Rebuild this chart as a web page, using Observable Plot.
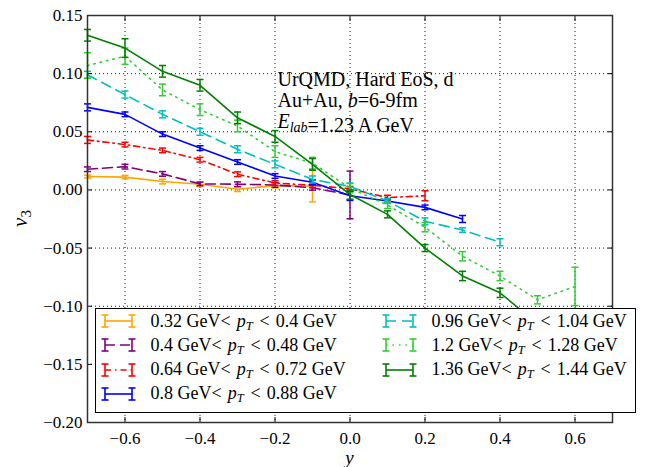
<!DOCTYPE html>
<html><head><meta charset="utf-8">
<script src="https://cdn.jsdelivr.net/npm/d3@7"></script>
<script src="https://cdn.jsdelivr.net/npm/@observablehq/plot@0.6"></script>
<style>
body{margin:0;background:#fff;}
#wrap{position:relative;width:646px;height:467px;font-family:'Liberation Serif',serif;}
#legend{position:absolute;left:95px;top:308px;width:541px;height:105px;border:1.2px solid #000;background:#fff;box-sizing:border-box;}
.item{position:absolute;display:flex;align-items:center;height:24px;font-size:18px;white-space:nowrap;color:#000;font-family:'Liberation Serif',serif;}
.item svg{margin-right:12.5px;}
.r1{margin:0 6px 0 0;}
.r2{margin:0 6px 0 7px;}
.sub{font-size:12.5px;font-style:italic;position:relative;top:3px;}
</style>
</head><body>
<div id="wrap"><div id="legend"></div></div>
<script>
// ---- data ----
const xVals = [-0.7,-0.6,-0.5,-0.4,-0.3,-0.2,-0.1,0.0,0.1,0.2,0.3,0.4,0.5,0.6];
const ptLow  = ["0.32","0.4","0.64","0.8","0.96","1.2","1.36"];
const ptHigh = ["0.4","0.48","0.72","0.88","1.04","1.28","1.44"];
const colors = ["#ffa500","#800080","#ff0000","#0000ff","#00bfbf","#32cd32","#008000"];
const dashes = [null,"10,5","6,4,1.5,4",null,"10,6","1.5,5",null];

const v032 = [0.0115,0.011,0.0072,0.0049,0.0006,0.0037,0.0034];
const e032 = [0.0012,0.0015,0.002,0.002,0.002,0.002,0.0137];
const v040 = [0.0178,0.020,0.0138,0.0052,0.0049,0.0043,0.0018,-0.0043];
const e040 = [0.002,0.002,0.002,0.0015,0.002,0.002,0.002,0.0205];
const v064 = [0.043,0.039,0.034,0.026,0.0135,0.006,0.004,0.001,-0.0066,-0.005];
const e064 = [0.003,0.002,0.002,0.002,0.002,0.002,0.002,0.002,0.002,0.0043];
const v080 = [0.071,0.065,0.048,0.036,0.024,0.012,0.0066,-0.005,-0.0095,-0.015,-0.025];
const e080 = [0.003,0.002,0.002,0.002,0.002,0.002,0.002,0.004,0.002,0.002,0.003];
const v096 = [0.099,0.082,0.065,0.050,0.035,0.022,0.009,0.003,-0.0095,-0.027,-0.0345,-0.045];
const e096 = [0.003,0.003,0.003,0.003,0.003,0.003,0.003,0.003,0.002,0.003,0.002,0.003];
const v120 = [0.107,0.115,0.086,0.069,0.055,0.033,0.023,0.0015,-0.013,-0.032,-0.057,-0.074,-0.0945,-0.083];
const e120 = [0.011,0.007,0.005,0.005,0.005,0.005,0.005,0.004,0.003,0.004,0.004,0.004,0.0035,0.0165];
const v136 = [0.133,0.122,0.102,0.090,0.062,0.046,0.022,-0.004,-0.021,-0.050,-0.074,-0.0885,-0.115];
const e136 = [0.005,0.008,0.005,0.005,0.005,0.005,0.005,0.004,0.003,0.003,0.004,0.004,0.004];

const xTicks = [-0.6,-0.4,-0.2,0.0,0.2,0.4,0.6];
const yTicks = [-0.20,-0.15,-0.10,-0.05,0.00,0.05,0.10,0.15];
const annotation = ["UrQMD, Hard EoS, d", "Au+Au, |b|=6-9fm", "|E|_lab=1.23 A GeV"];

// ---- build ----
const vals = [v032,v040,v064,v080,v096,v120,v136];
const errs = [e032,e040,e064,e080,e096,e120,e136];
const series = vals.map((v,k)=>({k, color:colors[k], dash:dashes[k],
  rows: v.map((y,i)=>({x:xVals[i], y, e:errs[k][i]}))}));

const cap = {draw(ctx, size){ const r = Math.sqrt(size/Math.PI); ctx.moveTo(-r,0); ctx.lineTo(r,0); }};

const marks = [
  Plot.gridX({ticks:xTicks, stroke:"#000", strokeOpacity:0.9, strokeDasharray:"1,3"}),
  Plot.gridY({ticks:yTicks, stroke:"#000", strokeOpacity:0.9, strokeDasharray:"1,3"}),
];
for (const s of series) {
  marks.push(Plot.line(s.rows, {x:"x", y:"y", stroke:s.color, strokeWidth:1.6, strokeDasharray:s.dash}));
  marks.push(Plot.ruleX(s.rows, {x:"x", y1:d=>d.y-d.e, y2:d=>d.y+d.e, stroke:s.color, strokeWidth:1.5}));
  marks.push(Plot.dot(s.rows, {x:"x", y:d=>d.y-d.e, symbol:cap, r:3.5, stroke:s.color, strokeWidth:1.5, fill:"none"}));
  marks.push(Plot.dot(s.rows, {x:"x", y:d=>d.y+d.e, symbol:cap, r:3.5, stroke:s.color, strokeWidth:1.5, fill:"none"}));
}
marks.push(
  Plot.axisX({anchor:"bottom", ticks:xTicks, tickSize:-5, tickPadding:14, tickFormat:d3.format(".1f"), fontSize:17, fill:"#000", stroke:"#000"}),
  Plot.axisX({anchor:"top", ticks:xTicks, tickSize:-5, tickFormat:()=>"", stroke:"#000"}),
  Plot.axisY({anchor:"left", ticks:yTicks, tickSize:-5, tickPadding:10, tickFormat:d3.format(".2f"), fontSize:17, fill:"#000", stroke:"#000"}),
  Plot.axisY({anchor:"right", ticks:yTicks, tickSize:-5, tickFormat:()=>"", stroke:"#000"}),
  Plot.frame({stroke:"#333", strokeWidth:1.5})
);

const chart = Plot.plot({
  width:646, height:467,
  marginLeft:87, marginRight:34, marginTop:15, marginBottom:45,
  x:{domain:[-0.7,0.7], label:null},
  y:{domain:[-0.2,0.15], label:null},
  style:{fontFamily:"'Liberation Serif', serif", fontSize:"17px", background:"white", color:"#000"},
  marks
});
document.getElementById("wrap").prepend(chart);

// annotations & axis labels (positioned through the chart scales)
const sx = chart.scale("x"), sy = chart.scale("y");
const svg = d3.select(chart);
const ax = sx.apply(-0.192), ay = sy.apply(0.0893);
annotation.forEach((line,i)=>{
  const t = svg.append("text").attr("x",ax).attr("y",ay+i*21.3).attr("text-anchor","start")
    .attr("font-family","'Liberation Serif', serif").attr("font-size",20).attr("fill","#000");
  const re = /\|([^|]+)\||_(\w+)|([^|_]+)/g; let m;
  while ((m = re.exec(line))) {
    if (m[1]) t.append("tspan").attr("font-style","italic").text(m[1]);
    else if (m[2]) { t.append("tspan").attr("font-style","italic").attr("font-size",14).attr("dy",4).text(m[2]); t.append("tspan").attr("dy",-4).text(""); }
    else t.append("tspan").text(m[3]);
  }
});
const [r0,r1] = sy.range;
const yl = svg.append("text").attr("transform",`translate(27,${(r0+r1)/2}) rotate(-90)`)
  .attr("text-anchor","middle").attr("font-family","'Liberation Serif', serif").attr("font-size",21).attr("fill","#000");
yl.append("tspan").attr("font-style","italic").text("v");
yl.append("tspan").attr("font-size",15).attr("dy",4).text("3");
const [c0,c1] = sx.range;
svg.append("text").attr("x",(c0+c1)/2).attr("y",464).attr("text-anchor","middle")
  .attr("font-family","'Liberation Serif', serif").attr("font-size",19).attr("font-style","italic").attr("fill","#000").text("y");

// legend
const legend = document.getElementById("legend");
const pos = [[0,0],[0,1],[0,2],[0,3],[1,0],[1,1],[1,2]];
series.forEach((s,k)=>{
  const [col,row] = pos[k];
  const div = document.createElement("div");
  div.className = "item";
  div.style.left = (col ? 285 : 4) + "px";
  div.style.top = (row*24.3) + "px";
  const h = d3.create("svg").attr("width",38).attr("height",16);
  const g = h.append("g").attr("stroke",s.color).attr("stroke-width",1.6).attr("fill","none");
  g.append("line").attr("x1",5).attr("x2",32).attr("y1",8).attr("y2",8).attr("stroke-dasharray",s.dash);
  for (const x of [5,32]) {
    g.append("line").attr("x1",x).attr("x2",x).attr("y1",2).attr("y2",14);
    g.append("line").attr("x1",x-3.5).attr("x2",x+3.5).attr("y1",2).attr("y2",2);
    g.append("line").attr("x1",x-3.5).attr("x2",x+3.5).attr("y1",14).attr("y2",14);
  }
  div.appendChild(h.node());
  const span = document.createElement("span");
  span.innerHTML = `${ptLow[k]} GeV<span class="r1">&lt;</span><i>p</i><span class="sub">T</span><span class="r2">&lt;</span>${ptHigh[k]} GeV`;
  div.appendChild(span);
  legend.appendChild(div);
});
</script>
</body></html>
